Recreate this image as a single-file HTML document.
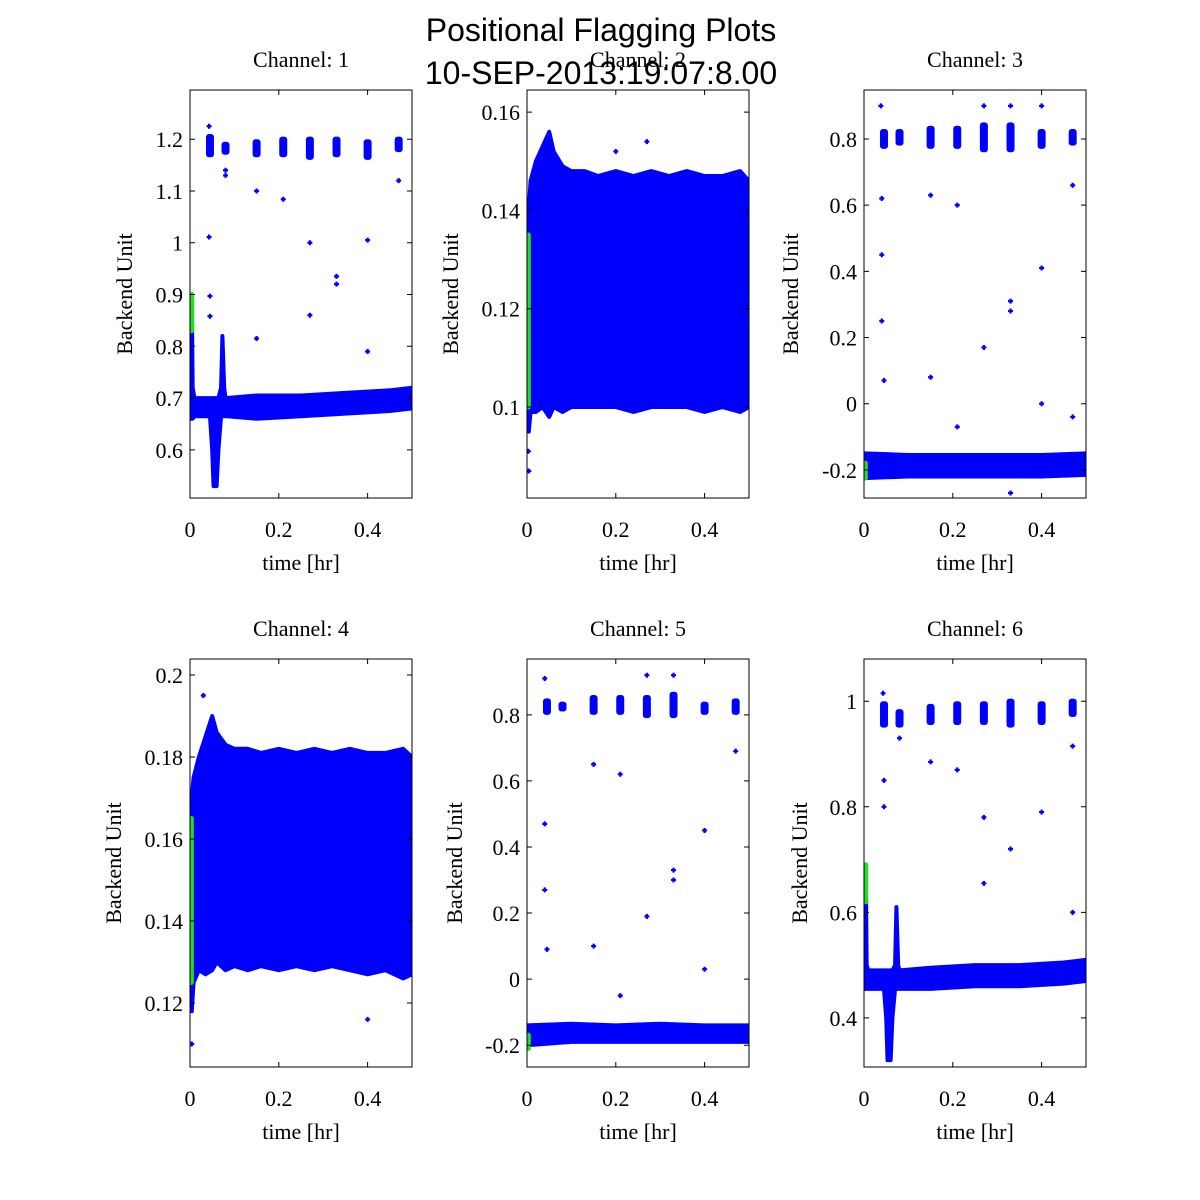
<!DOCTYPE html>
<html><head><meta charset="utf-8"><style>
body{margin:0;background:#fff;}
svg{display:block;}
.tk{font-family:"Liberation Serif",serif;font-size:22px;fill:#000;}
.ti{font-family:"Liberation Sans",sans-serif;font-size:32px;fill:#000;}
</style></head><body>
<svg id="c" width="1200" height="1200" viewBox="0 0 1200 1200" xmlns="http://www.w3.org/2000/svg">
<rect width="1200" height="1200" fill="#fff"/>
<text class="ti" x="601" y="41" text-anchor="middle">Positional Flagging Plots</text>
</svg>
<script>
// ---- data (times in hr, values in backend units) ----
const xTicks=[0,0.2,0.4];
const clusterTimes=[0.045,0.08,0.15,0.21,0.27,0.33,0.40,0.47];

const p1BandT=[0,0.004,0.006,0.01,0.045,0.05,0.053,0.06,0.064,0.07,0.073,0.077,0.08,0.15,0.25,0.35,0.45,0.5];
const p1BandLo=[0.66,0.66,0.66,0.665,0.665,0.6,0.53,0.53,0.6,0.665,0.665,0.665,0.665,0.66,0.665,0.67,0.675,0.68];
const p1BandHi=[0.8,0.9,0.72,0.70,0.70,0.70,0.70,0.70,0.70,0.72,0.82,0.72,0.70,0.705,0.705,0.71,0.715,0.72];
const p1ClLo=[1.165,1.17,1.165,1.165,1.16,1.165,1.16,1.175];
const p1ClHi=[1.21,1.195,1.2,1.205,1.205,1.205,1.2,1.205];
const p1OutT=[0.043,0.043,0.045,0.045,0.08,0.08,0.15,0.21,0.27,0.27,0.33,0.33,0.40,0.40,0.47,0.15];
const p1OutV=[1.011,1.225,0.897,0.858,1.14,1.13,1.1,1.084,1.0,0.86,0.935,0.92,1.005,0.79,1.12,0.815];
const p1GreenT=[0.004,0.004];const p1GreenV=[0.83,0.9];

const p2BandT=[0,0.004,0.008,0.02,0.035,0.05,0.06,0.08,0.1,0.13,0.16,0.2,0.24,0.28,0.32,0.36,0.4,0.44,0.48,0.5];
const p2BandLo=[0.1,0.095,0.099,0.099,0.1,0.098,0.1,0.099,0.1,0.1,0.1,0.1,0.099,0.1,0.1,0.1,0.099,0.1,0.099,0.1];
const p2BandHi=[0.135,0.14,0.146,0.15,0.153,0.156,0.152,0.149,0.148,0.148,0.147,0.148,0.147,0.148,0.147,0.148,0.147,0.147,0.148,0.146];
const p2OutT=[0.004,0.003,0.27,0.20];
const p2OutV=[0.087,0.091,0.154,0.152];
const p2GreenT=[0.003,0.003];const p2GreenV=[0.1,0.135];

const p3BandT=[0,0.1,0.2,0.3,0.4,0.5];
const p3BandLo=[-0.225,-0.22,-0.22,-0.22,-0.22,-0.215];
const p3BandHi=[-0.15,-0.155,-0.155,-0.155,-0.155,-0.15];
const p3ClLo=[0.77,0.78,0.77,0.77,0.76,0.76,0.77,0.78];
const p3ClHi=[0.83,0.83,0.84,0.84,0.85,0.85,0.83,0.83];
const p3OutT=[0.038,0.04,0.04,0.04,0.045,0.15,0.15,0.21,0.21,0.27,0.27,0.33,0.33,0.33,0.33,0.40,0.40,0.40,0.47,0.47];
const p3OutV=[0.9,0.62,0.45,0.25,0.07,0.63,0.08,0.6,-0.07,0.9,0.17,0.9,0.31,0.28,-0.27,0.9,0.41,0.0,0.66,-0.04];
const p3GreenT=[0.003,0.003];const p3GreenV=[-0.225,-0.18];

const p4BandT=[0,0.004,0.008,0.02,0.035,0.05,0.06,0.08,0.1,0.13,0.16,0.2,0.24,0.28,0.32,0.36,0.4,0.44,0.48,0.5];
const p4BandLo=[0.12,0.118,0.125,0.128,0.127,0.128,0.13,0.128,0.129,0.128,0.129,0.128,0.129,0.128,0.129,0.128,0.127,0.128,0.126,0.127];
const p4BandHi=[0.165,0.17,0.175,0.18,0.185,0.19,0.186,0.183,0.182,0.182,0.181,0.182,0.181,0.182,0.181,0.182,0.181,0.181,0.182,0.18];
const p4OutT=[0.004,0.4,0.03];
const p4OutV=[0.11,0.116,0.195];
const p4GreenT=[0.003,0.003];const p4GreenV=[0.125,0.165];

const p5BandT=[0,0.1,0.2,0.3,0.4,0.5];
const p5BandLo=[-0.2,-0.19,-0.19,-0.19,-0.19,-0.19];
const p5BandHi=[-0.14,-0.135,-0.14,-0.135,-0.14,-0.14];
const p5ClLo=[0.8,0.81,0.8,0.8,0.79,0.79,0.8,0.8];
const p5ClHi=[0.85,0.84,0.86,0.86,0.86,0.87,0.84,0.85];
const p5OutT=[0.04,0.04,0.04,0.045,0.15,0.15,0.21,0.21,0.27,0.27,0.33,0.33,0.33,0.40,0.40,0.47];
const p5OutV=[0.91,0.47,0.27,0.09,0.65,0.1,0.62,-0.05,0.92,0.19,0.92,0.33,0.3,0.45,0.03,0.69];
const p5GreenT=[0.003,0.003];const p5GreenV=[-0.21,-0.17];

const p6BandT=[0,0.004,0.006,0.01,0.045,0.05,0.053,0.06,0.064,0.07,0.073,0.077,0.08,0.15,0.25,0.35,0.45,0.5];
const p6BandLo=[0.455,0.455,0.455,0.455,0.455,0.4,0.32,0.32,0.4,0.455,0.455,0.455,0.455,0.455,0.46,0.46,0.465,0.47];
const p6BandHi=[0.6,0.69,0.5,0.49,0.49,0.49,0.49,0.49,0.49,0.5,0.61,0.5,0.49,0.495,0.5,0.5,0.505,0.51];
const p6ClLo=[0.95,0.95,0.955,0.955,0.955,0.95,0.955,0.97];
const p6ClHi=[1.0,0.985,0.995,1.0,1.0,1.005,1.0,1.005];
const p6OutT=[0.043,0.045,0.045,0.08,0.15,0.21,0.27,0.27,0.33,0.33,0.40,0.47,0.47];
const p6OutV=[1.015,0.85,0.8,0.93,0.885,0.87,0.78,0.655,0.98,0.72,0.79,0.915,0.6];
const p6GreenT=[0.004,0.004];const p6GreenV=[0.62,0.69];

const p1YTicks=[0.6,0.7,0.8,0.9,1,1.1,1.2];
const p2YTicks=[0.1,0.12,0.14,0.16];
const p3YTicks=[-0.2,0,0.2,0.4,0.6,0.8];
const p4YTicks=[0.12,0.14,0.16,0.18,0.2];
const p5YTicks=[-0.2,0,0.2,0.4,0.6,0.8];
const p6YTicks=[0.4,0.6,0.8,1];

const panels=[
 {n:1,x:190,y:90,ymin:0.507,ymax:1.295,yt:p1YTicks,bt:p1BandT,lo:p1BandLo,hi:p1BandHi,cl:p1ClLo,ch:p1ClHi,ot:p1OutT,ov:p1OutV,gt:p1GreenT,gv:p1GreenV,lx:125},
 {n:2,x:527,y:90,ymin:0.0815,ymax:0.1645,yt:p2YTicks,bt:p2BandT,lo:p2BandLo,hi:p2BandHi,cl:null,ch:null,ot:p2OutT,ov:p2OutV,gt:p2GreenT,gv:p2GreenV,lx:451},
 {n:3,x:864,y:90,ymin:-0.285,ymax:0.948,yt:p3YTicks,bt:p3BandT,lo:p3BandLo,hi:p3BandHi,cl:p3ClLo,ch:p3ClHi,ot:p3OutT,ov:p3OutV,gt:p3GreenT,gv:p3GreenV,lx:791},
 {n:4,x:190,y:659,ymin:0.1044,ymax:0.2039,yt:p4YTicks,bt:p4BandT,lo:p4BandLo,hi:p4BandHi,cl:null,ch:null,ot:p4OutT,ov:p4OutV,gt:p4GreenT,gv:p4GreenV,lx:114},
 {n:5,x:527,y:659,ymin:-0.266,ymax:0.969,yt:p5YTicks,bt:p5BandT,lo:p5BandLo,hi:p5BandHi,cl:p5ClLo,ch:p5ClHi,ot:p5OutT,ov:p5OutV,gt:p5GreenT,gv:p5GreenV,lx:455},
 {n:6,x:864,y:659,ymin:0.307,ymax:1.08,yt:p6YTicks,bt:p6BandT,lo:p6BandLo,hi:p6BandHi,cl:p6ClLo,ch:p6ClHi,ot:p6OutT,ov:p6OutV,gt:p6GreenT,gv:p6GreenV,lx:800}
];
const W=222,H=408,NS='http://www.w3.org/2000/svg';
const svg=document.getElementById('c');
function mk(tag,attrs,parent){const e=document.createElementNS(NS,tag);for(const k in attrs)e.setAttribute(k,attrs[k]);(parent||svg).appendChild(e);return e;}
function fmt(v){return String(Math.round(v*1000)/1000);}
function plus(g,px,py,col){
 const d=mk('path',{d:`M${px-2.5},${py}h5M${px},${py-2.5}v5`,stroke:col,'stroke-width':2.2,fill:'none'},g);
 
 
}
panels.forEach(p=>{
 const g=mk('g',{});
 
 
 const sx=t=>p.x+t/0.5*W;
 const sy=v=>p.y+H-(v-p.ymin)/(p.ymax-p.ymin)*H;
 const clip=mk('clipPath',{id:'cp'+p.n},g);mk('rect',{x:p.x,y:p.y,width:W,height:H},clip);
 const dg=mk('g',{'clip-path':'url(#cp'+p.n+')'},g);
 let pts=p.bt.map((t,i)=>sx(t)+','+sy(p.hi[i]));
 for(let i=p.bt.length-1;i>=0;i--)pts.push(sx(p.bt[i])+','+sy(p.lo[i]));
 const band=mk('polygon',{points:pts.join(' '),fill:'#0000ff',stroke:'#0000ff','stroke-width':4,'stroke-linejoin':'round'},dg);
 
 
 if(p.cl){clusterTimes.forEach((t,i)=>{
  const r=mk('rect',{x:sx(t)-4,y:sy(p.ch[i]),width:8,height:sy(p.cl[i])-sy(p.ch[i]),rx:3,fill:'#0000ff'},dg);
  
  
 });}
 p.ot.forEach((t,i)=>plus(dg,sx(t),sy(p.ov[i]),'#0000ff'));
 const gl=mk('line',{x1:sx(p.gt[0]),x2:sx(p.gt[1]),y1:sy(p.gv[0]),y2:sy(p.gv[1]),stroke:'#22dd22','stroke-width':5,'stroke-linecap':'round'},dg);
 
 
 const bx=mk('rect',{x:p.x,y:p.y,width:W,height:H,fill:'none',stroke:'#000','stroke-width':1},g);
 
 
 xTicks.forEach(t=>{
  const X=sx(t);
  mk('path',{d:`M${X},${p.y+H}v-5M${X},${p.y}v5`,stroke:'#000'},g);
  const tx=mk('text',{class:'tk',x:X,y:p.y+H+39,'text-anchor':'middle'},g);tx.textContent=fmt(t);
  
  
 });
 p.yt.forEach(v=>{
  const Y=sy(v);
  mk('path',{d:`M${p.x},${Y}h5M${p.x+W},${Y}h-5`,stroke:'#000'},g);
  const tx=mk('text',{class:'tk',x:p.x-7,y:Y+8,'text-anchor':'end'},g);tx.textContent=fmt(v);
  
  
 });
 const xl=mk('text',{class:'tk',x:p.x+W/2,y:p.y+H+72,'text-anchor':'middle'},g);xl.textContent='time [hr]';
 
 
 const yl=mk('text',{class:'tk',x:0,y:0,'text-anchor':'middle',transform:`translate(${p.lx+7},${p.y+H/2}) rotate(-90)`},g);yl.textContent='Backend Unit';
 
 
 const tt=mk('text',{class:'tk',x:p.x+W/2,y:p.y-23,'text-anchor':'middle'},g);tt.textContent='Channel: '+p.n;
 
 
});
const st=mk('text',{class:'ti',x:601,y:84,'text-anchor':'middle'});st.textContent='10-SEP-2013:19:07:8.00';


</script>
</body></html>
